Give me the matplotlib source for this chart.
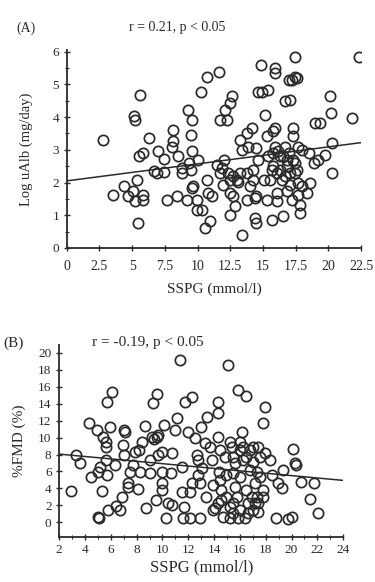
import numpy as np
import matplotlib.pyplot as plt
import matplotlib.transforms as mtransforms

plt.rcParams['font.family'] = ['Liberation Serif', 'DejaVu Serif']

# panel A: SSPG vs log urinary albumin
sspg_a = [2.8, 3.57, 4.38, 4.7, 5.17, 5.2, 5.35, 5.1, 5.2, 5.6, 5.48, 5.55, 5.8, 5.86, 5.8,
          6.32, 6.68, 6.88, 7.0, 7.4, 7.44, 7.65, 8.15, 8.15, 8.03, 8.46, 8.54, 8.8, 8.8, 9.17,
          9.3, 9.48, 9.38, 9.56, 9.48, 9.56, 9.63, 9.56, 9.94, 10.07, 9.94, 10.3, 10.27, 10.7,
          10.7, 10.58, 10.96, 10.83, 11.1, 11.67, 11.72, 12.23, 11.72, 11.85, 12.03, 12.1, 12.49,
          12.6, 12.36, 12.49, 11.93, 12.49, 12.49, 12.74, 12.87, 13.0, 13.12, 13.25, 13.38, 13.38,
          13.76, 13.89, 13.81, 14.14, 14.27, 14.4, 14.5, 14.4, 14.5, 14.48, 14.65, 14.65, 14.9,
          14.83, 15.16, 15.29, 15.42, 15.29, 15.42, 15.67, 15.8, 15.93, 15.88, 15.93, 15.8, 15.93,
          16.06, 16.06, 16.31, 16.31, 16.44, 16.56, 16.69, 17.07, 16.82, 16.95, 17.2, 17.46, 17.46,
          17.6, 17.2, 17.33, 17.33, 17.46, 17.6, 17.71, 17.71, 17.71, 17.84, 17.84, 17.97, 17.97,
          18.48, 18.6, 18.35, 18.86, 18.99, 19.37, 19.24, 19.75, 20.13, 20.2, 20.31, 20.31, 21.8,
          22.3, 15.8, 16.18, 16.56, 16.82, 17.07, 16.69, 16.06, 15.67, 16.95, 17.33, 17.07, 16.82,
          17.46, 16.69, 13.76, 14.01, 12.74, 13.25, 11.47, 14.27, 15.55, 15.04]
lualb = [3.31, 1.63, 1.9, 1.58, 4.02, 3.92, 2.09, 1.73, 1.42, 4.68, 0.76, 2.8, 2.9, 1.48, 1.63,
         3.36, 2.34, 2.29, 2.97, 2.72, 2.31, 1.48, 3.61, 3.26, 3.1, 1.58, 2.8, 2.29, 2.44, 1.48,
         4.22, 2.39, 2.59, 3.92, 3.46, 2.95, 1.88, 1.83, 1.48, 2.7, 1.17, 1.17, 4.78, 5.24,
         2.09, 0.61, 0.81, 1.68, 1.58, 5.39, 3.92, 3.92, 2.29, 2.44, 2.7, 4.22, 4.43,
         4.63, 2.29, 2.09, 1.93, 1.02, 1.68, 1.58, 1.27, 2.09, 2.03, 3.31, 3.0, 0.41,
         3.51, 3.1, 1.48, 3.66, 2.39, 1.53, 1.58, 0.92, 0.76, 3.05, 2.7, 4.78, 4.78,
         5.6, 4.07, 3.41, 4.83, 1.48, 2.8, 0.86, 2.49, 5.49, 5.36, 3.66, 3.56, 3.1,
         1.68, 1.42, 2.8, 2.39, 2.09, 0.97, 4.48, 4.53, 2.7, 5.14, 5.14, 5.85, 5.24,
         5.19, 1.48, 3.66, 3.41, 2.29, 2.39, 3.1, 1.98, 1.63, 1.07, 1.32, 3.0, 1.88,
         2.9, 1.98, 1.68, 2.59, 3.81, 3.81, 2.7, 2.85, 4.63, 4.12, 3.2, 2.29, 3.97,
         5.85, 2.9, 2.95, 2.8, 2.49, 2.29, 2.19, 2.29, 2.39, 2.9, 2.7, 1.93, 1.73,
         2.59, 3.1, 2.29, 1.88, 2.19, 2.29, 2.54, 2.09, 2.09, 2.09]
fit_a_x = [0, 22.5]
fit_a_y = [2.05, 3.22]

# panel B: SSPG vs %FMD
sspg_b = [2.88, 3.29, 3.6, 4.32, 4.43, 4.89, 5.1, 5.02, 5.15, 5.02, 5.28, 5.41, 5.61, 5.61,
          5.61, 5.67, 5.8, 5.72, 6.1, 5.9, 6.31, 6.38, 6.7, 6.83, 6.96, 7.03, 7.09, 7.03, 7.34,
          7.34, 7.47, 7.68, 7.86, 8.2, 8.07, 8.25, 8.43, 8.64, 8.76, 9.02, 9.02, 9.15, 9.33, 9.54,
          9.67, 9.28, 9.59, 9.49, 9.67, 9.93, 9.93, 9.93, 9.93, 10.1, 10.31, 10.39, 10.7, 10.7,
          10.65, 10.96, 11.09, 11.35, 11.55, 11.55, 11.66, 11.73, 11.6, 12.12, 11.99, 12.25, 12.12,
          12.25, 12.5, 12.64, 12.77, 12.77, 12.9, 12.95, 12.9, 13.03, 13.28, 13.41, 13.46, 13.67,
          13.8, 13.93, 14.06, 14.32, 14.32, 14.32, 14.44, 14.4, 14.44, 14.57, 14.7, 15.09, 14.96,
          15.22, 15.35, 15.48, 15.22, 15.48, 15.61, 15.87, 16.51, 16.0, 16.13, 15.87, 16.25, 16.38,
          16.64, 16.77, 17.03, 17.16, 17.29, 17.41, 17.54, 17.8, 17.93, 17.8, 17.8, 17.93, 18.32,
          18.45, 18.78, 18.96, 19.3, 19.35, 19.74, 20.07, 20.13, 20.25, 20.33, 20.77, 21.73, 21.47,
          22.06, 14.96, 15.22, 15.74, 15.48, 16.0, 16.51, 16.64, 17.03, 17.16, 16.9, 17.41, 17.54,
          17.29, 16.51, 16.77, 16.0, 15.61, 16.25, 17.03, 17.41, 14.32, 13.93, 14.57, 15.48, 14.83,
          16.0]
fmd = [3.73, 7.94, 6.95, 11.67, 5.3, 10.88, 0.55, 0.67, 6.56, 5.97, 3.73, 10.1, 9.5, 8.92,
       7.35, 5.58, 1.45, 14.22, 15.4, 11.28, 6.76, 1.93, 1.45, 3.03, 9.12, 10.88, 10.69, 7.94, 4.6,
       4.2, 5.97, 6.76, 8.33, 8.53, 3.93, 5.97, 9.5, 11.36, 1.65, 5.78, 7.35, 10.1, 9.78, 10.1,
       10.29, 14.03, 15.09, 2.63, 7.94, 8.33, 5.97, 3.81, 4.6, 11.47, 0.47, 2.24, 2.04, 8.21,
       5.85, 10.88, 12.26, 19.14, 6.56, 3.61, 1.85, 14.22, 0.47, 0.47, 10.69, 14.81, 3.61,
       4.6, 9.9, 7.94, 7.35, 5.58, 0.47, 11.2, 4.6, 6.37, 9.31, 3.03, 12.46, 8.92,
       7.35, 4.4, 1.65, 14.22, 12.93, 10.1, 8.53, 5.97, 4.99, 2.63, 0.67, 18.55, 5.58,
       9.5, 8.92, 7.74, 0.47, 2.24, 4.2, 15.6, 14.89, 9.5, 10.69, 0.47, 7.35, 0.47,
       2.24, 6.17, 8.92, 4.6, 3.03, 1.26, 7.74, 11.67, 13.63, 3.81, 3.03, 8.13, 7.35,
       5.58, 0.47, 4.6, 4.09, 6.17, 0.35, 0.67, 8.64, 6.95, 6.76, 4.79, 4.68, 2.71,
       1.14, 3.03, 1.85, 3.03, 1.06, 1.45, 3.81, 1.06, 1.45, 2.24, 3.03, 2.24, 5.38,
       5.97, 7.74, 8.53, 8.53, 6.95, 8.92, 7.15, 8.92, 2.24, 1.45, 3.81, 5.78, 7.74,
       5.38]
fit_b_x = [2, 24]
fit_b_y = [8.05, 4.95]

xticks_a = [0, 2.5, 5, 7.5, 10, 12.5, 15, 17.5, 20, 22.5]
xticklabels_a = ["0", "2.5", "5", "7.5", "10", "12.5", "15", "17.5", "20", "22.5"]

ink = "#2a2a2a"
mk = dict(marker="o", linestyle="none", markersize=7.4, markerfacecolor="none",
          markeredgecolor=ink, markeredgewidth=1.25)

fig = plt.figure(figsize=(3.75, 5.82), dpi=100)

# ---- panel A
ax1 = fig.add_axes([0.178, 0.574, 0.785, 0.340])
ax1.plot(sspg_a, lualb, **mk)
ax1.plot(fit_a_x, fit_a_y, color=ink, linewidth=1.1)
ax1.set_xlim(0, 22.5)
ax1.set_ylim(0, 6.05)
ax1.set_xticks(xticks_a)
ax1.set_xticklabels(xticklabels_a)
ax1.set_yticks(range(0, 7))
ax1.set_yticks(np.arange(0, 6.01, 0.5), minor=True)
ax1.set_ylabel("Log uAlb (mg/day)", fontsize=10.5, labelpad=14)
ax1.set_xlabel("SSPG (mmol/l)", fontsize=11, labelpad=7)

# the 12.5 and 15 labels are squeezed together in the original
labs = ax1.get_xticklabels()
for lab, dx in [(labs[5], 4), (labs[6], -10)]:
    lab.set_transform(lab.get_transform() +
                      mtransforms.ScaledTranslation(dx / 100, 0, fig.dpi_scale_trans))

fig.text(0.07, 0.952, "(A)", fontsize=10, ha="center", va="center", color=ink)
fig.text(0.472, 0.952, "r = 0.21, p < 0.05", fontsize=10, ha="center", va="center", color=ink)

# ---- panel B
ax2 = fig.add_axes([0.158, 0.0778, 0.757, 0.329])
ax2.plot(sspg_b, fmd, **mk)
ax2.plot(fit_b_x, fit_b_y, color=ink, linewidth=1.1)
ax2.set_xlim(2, 24)
ax2.set_ylim(-1.7, 20.9)
ax2.set_xticks(range(2, 25, 2))
ax2.set_xticks(range(2, 25), minor=True)
ax2.set_yticks(range(0, 21, 2))
ax2.set_ylabel("%FMD (%)", fontsize=11, labelpad=9)
ax2.set_xlabel("SSPG (mmol/l)", fontsize=12, labelpad=2)

fig.text(0.035, 0.411, "(B)", fontsize=11, ha="center", va="center", color=ink)
fig.text(0.395, 0.411, "r = -0.19, p < 0.05", fontsize=11, ha="center", va="center", color=ink)

for ax in (ax1, ax2):
    ax.spines["top"].set_visible(False)
    ax.spines["right"].set_visible(False)
    ax.spines["left"].set_color(ink)
    ax.spines["bottom"].set_color(ink)
    ax.spines["left"].set_linewidth(1.3)
    ax.spines["bottom"].set_linewidth(1.3)
    ax.tick_params(which="major", direction="inout", length=5, width=1, colors=ink,
                   labelsize=9.5, pad=3)
    ax.tick_params(which="minor", direction="inout", length=3, width=0.8, colors=ink)
    ax.xaxis.label.set_color(ink)
    ax.yaxis.label.set_color(ink)

ax1.tick_params(axis="x", pad=6, labelsize=10)

plt.savefig("out.png", dpi=100)
